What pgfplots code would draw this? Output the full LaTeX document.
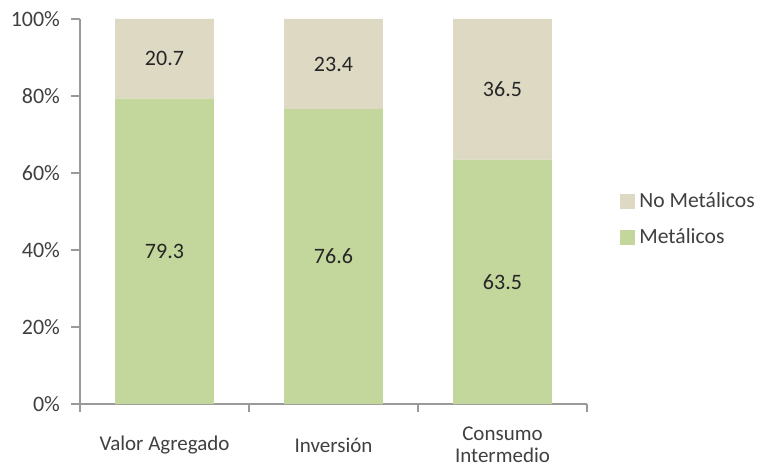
\documentclass[border=0pt]{standalone}
\usepackage{fontspec}
\setmainfont{Carlito}
\usepackage{pgfplots}
\pgfplotsset{compat=1.18}
\definecolor{metal}{HTML}{C3D69B}
\definecolor{nometal}{HTML}{DDD9C3}
\definecolor{axgray}{HTML}{9A9A9A}
\definecolor{txt}{HTML}{404040}
\begin{document}
\begin{tikzpicture}
\useasboundingbox (-40pt,-33.5pt) rectangle (339pt,202pt);
\begin{axis}[
  scale only axis,
  width=253.5pt, height=192.5pt,
  ybar stacked,
  bar width=0.585,
  xmin=-0.5, xmax=2.5,
  ymin=0, ymax=100,
  axis x line*=bottom, axis y line*=left,
  axis line style={axgray, line width=0.6pt},
  tick style={axgray, line width=0.6pt},
  tick align=outside,
  major tick length=4.5pt,
  xtick={0,1,2},
  xticklabels={Valor Agregado, Inversión, {Consumo\\Intermedio}},
  x tick style={draw=none},
  extra x ticks={-0.5,0.5,1.5,2.5},
  extra x tick labels={},
  extra x tick style={x tick style={draw=axgray}, major tick length=4pt},
  xticklabel style={align=center, anchor=center, yshift=-16pt, font=\fontsize{10.5}{11}\selectfont, text=txt},
  ytick={0,20,40,60,80,100},
  yticklabel={\pgfmathprintnumber{\tick}\%},
  yticklabel style={font=\fontsize{11}{12}\selectfont, text=txt, xshift=-2pt},
  /pgf/number format/assume math mode=true,
  legend style={draw=none, at={(1.065,0.478)}, anchor=west, font=\fontsize{10.8}{12}\selectfont, text=txt, row sep=5pt, inner sep=0pt},
  legend cell align=left,
  reverse legend,
  legend image code/.code={\fill[#1] (0pt,-3.75pt) rectangle (7.5pt,3.75pt);},
]
\addplot[fill=metal, draw=none] coordinates {(0,79.3) (1,76.6) (2,63.5)};
\addlegendentry{Metálicos}
\addplot[fill=nometal, draw=none] coordinates {(0,20.7) (1,23.4) (2,36.5)};
\addlegendentry{No Metálicos}
\end{axis}
\begin{axis}[
  scale only axis,
  width=253.5pt, height=192.5pt,
  xmin=-0.5, xmax=2.5,
  ymin=0, ymax=100,
  hide axis,
]
\addplot[only marks, mark=none, nodes near coords, point meta=explicit symbolic,
  nodes near coords align=center,
  every node near coord/.append style={anchor=center, font=\fontsize{11}{12}\selectfont, text=black!85}]
  coordinates {(0,39.65)[79.3] (1,38.3)[76.6] (2,31.75)[63.5]
               (0,89.65)[20.7] (1,88.3)[23.4] (2,81.75)[36.5]};
\end{axis}
\end{tikzpicture}
\end{document}
